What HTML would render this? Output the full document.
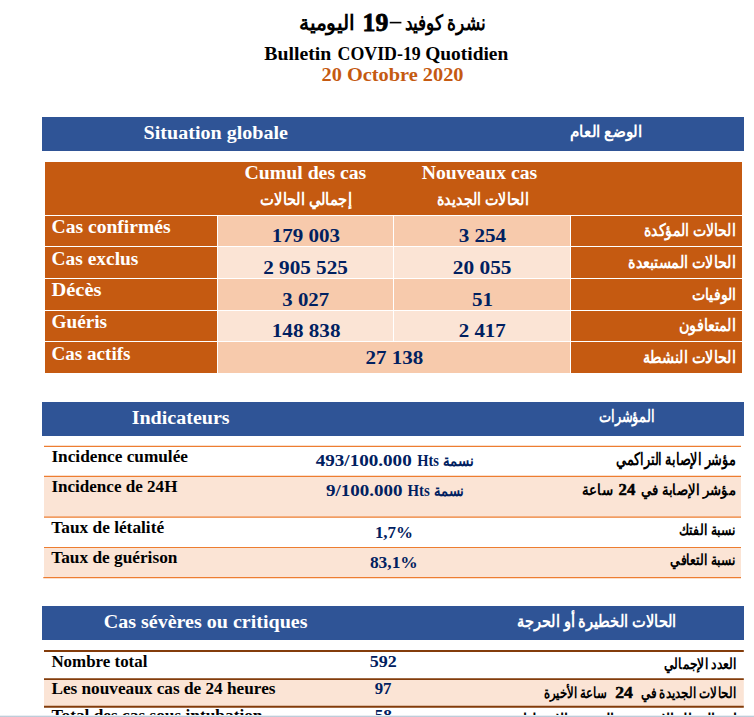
<!DOCTYPE html>
<html lang="fr"><head><meta charset="utf-8"><title>Bulletin COVID-19 Quotidien</title>
<style>html,body{margin:0;padding:0;background:#fff}body{width:754px;height:717px;overflow:hidden}svg{display:block}text{font-family:"Liberation Serif",serif;font-weight:bold;white-space:pre}</style></head>
<body>
<svg width="754" height="717" viewBox="0 0 754 717">
<defs><linearGradient id="sh" x1="0" y1="0" x2="0" y2="1"><stop offset="0" stop-color="#fff"/><stop offset="1" stop-color="#a9bccd"/></linearGradient></defs>
<!-- section bars -->
<rect x="42" y="117" width="702" height="34" fill="#2F5496"/>
<rect x="42" y="402" width="702" height="34" fill="#2F5496"/>
<rect x="42" y="606" width="702" height="34" fill="#2F5496"/>
<!-- table 1 -->
<rect x="45" y="162" width="697" height="211" fill="#C55A11"/>
<rect x="218" y="216" width="352" height="30.5" fill="#F7CAAC"/>
<rect x="218" y="246.5" width="352" height="32" fill="#FBE4D5"/>
<rect x="218" y="278.5" width="352" height="32" fill="#F7CAAC"/>
<rect x="218" y="310.5" width="352" height="31" fill="#FBE4D5"/>
<rect x="218" y="341.5" width="352" height="31.5" fill="#F7CAAC"/>
<g stroke="#fff" stroke-width="1">
<path d="M45 215.5H742M45 246.5H742M45 278.5H742M45 310.5H742M45 341.5H742"/>
<path d="M217.5 215.5V373M570.5 215.5V373M393.5 215.5V341.5"/>
</g>
<!-- table 2 -->
<rect x="44" y="476" width="697" height="41" fill="#FBE4D5"/>
<rect x="44" y="547" width="697" height="31" fill="#FBE4D5"/>
<path d="M44 446.4H741M44 476.4H741" stroke="#ED7D31" stroke-width="1.4"/><path d="M44 517.1H741M44 547.5H741M43.3 577.6H741" stroke="#ED7D31" stroke-width="1.2"/>
<!-- table 3 -->
<rect x="44" y="679" width="699.8" height="27.8" fill="#FBE4D5"/>
<path d="M44 651H743.8M44 679.1H743.8M44 706.8H743.8" stroke="#833C0B" stroke-width="1.9"/>
<!-- title dash -->
<rect x="389.7" y="21.8" width="11.7" height="1.6" fill="#000"/>
<!-- latin text -->
<text x="264.3" y="59.7" font-size="18.67" fill="#000" textLength="67" lengthAdjust="spacingAndGlyphs">Bulletin</text>
<text x="337.5" y="59.7" font-size="18.67" fill="#000" textLength="83.3" lengthAdjust="spacingAndGlyphs">COVID-19</text>
<text x="425.2" y="59.7" font-size="18.67" fill="#000" textLength="83.1" lengthAdjust="spacingAndGlyphs">Quotidien</text>
<text x="321.6" y="81.2" font-size="18.67" fill="#C55A11" textLength="141.9" lengthAdjust="spacingAndGlyphs">20 Octobre 2020</text>
<text x="143.6" y="138.6" font-size="18.67" fill="#fff" textLength="144.4" lengthAdjust="spacingAndGlyphs">Situation globale</text>
<text x="244.6" y="179.3" font-size="18.67" fill="#fff" textLength="121.7" lengthAdjust="spacingAndGlyphs">Cumul des cas</text>
<text x="421.7" y="179.3" font-size="18.67" fill="#fff" textLength="115.6" lengthAdjust="spacingAndGlyphs">Nouveaux cas</text>
<text x="51.5" y="233.2" font-size="18.67" fill="#fff" textLength="119.1" lengthAdjust="spacingAndGlyphs">Cas confirmés</text>
<text x="51.5" y="264.9" font-size="18.67" fill="#fff" textLength="86.9" lengthAdjust="spacingAndGlyphs">Cas exclus</text>
<text x="51.5" y="296" font-size="18.67" fill="#fff" textLength="49.9" lengthAdjust="spacingAndGlyphs">Décès</text>
<text x="51.5" y="327.7" font-size="18.67" fill="#fff" textLength="55.6" lengthAdjust="spacingAndGlyphs">Guéris</text>
<text x="51.5" y="360" font-size="18.67" fill="#fff" textLength="79" lengthAdjust="spacingAndGlyphs">Cas actifs</text>
<text x="271.8" y="241.9" font-size="18.67" fill="#002060" textLength="68.3" lengthAdjust="spacingAndGlyphs">179 003</text>
<text x="263.2" y="274" font-size="18.67" fill="#002060" textLength="84.7" lengthAdjust="spacingAndGlyphs">2 905 525</text>
<text x="282.3" y="306.2" font-size="18.67" fill="#002060" textLength="46.8" lengthAdjust="spacingAndGlyphs">3 027</text>
<text x="271.8" y="337.3" font-size="18.67" fill="#002060" textLength="68.7" lengthAdjust="spacingAndGlyphs">148 838</text>
<text x="365.4" y="364" font-size="18.67" fill="#002060" textLength="57.8" lengthAdjust="spacingAndGlyphs">27 138</text>
<text x="458.7" y="241.9" font-size="18.67" fill="#002060" textLength="47.5" lengthAdjust="spacingAndGlyphs">3 254</text>
<text x="452.8" y="274" font-size="18.67" fill="#002060" textLength="58.7" lengthAdjust="spacingAndGlyphs">20 055</text>
<text x="471.9" y="306.2" font-size="18.67" fill="#002060" textLength="21" lengthAdjust="spacingAndGlyphs">51</text>
<text x="458.7" y="337.3" font-size="18.67" fill="#002060" textLength="47.1" lengthAdjust="spacingAndGlyphs">2 417</text>
<text x="131.7" y="423.6" font-size="18.67" fill="#fff" textLength="97.9" lengthAdjust="spacingAndGlyphs">Indicateurs</text>
<text x="51.4" y="461.7" font-size="16" fill="#000" textLength="136.6" lengthAdjust="spacingAndGlyphs">Incidence cumulée</text>
<text x="51.4" y="492.1" font-size="16" fill="#000" textLength="126" lengthAdjust="spacingAndGlyphs">Incidence de 24H</text>
<text x="51.3" y="533.4" font-size="16" fill="#000" textLength="112.8" lengthAdjust="spacingAndGlyphs">Taux de létalité</text>
<text x="51.3" y="562.8" font-size="16" fill="#000" textLength="126.1" lengthAdjust="spacingAndGlyphs">Taux de guérison</text>
<text x="315.7" y="465.9" font-size="17.3" fill="#002060" textLength="96" lengthAdjust="spacingAndGlyphs">493/100.000</text>
<text x="417.2" y="465.9" font-size="17.3" fill="#002060" textLength="21.7" lengthAdjust="spacingAndGlyphs">Hts</text>
<text x="326" y="496.1" font-size="17.3" fill="#002060" textLength="76.4" lengthAdjust="spacingAndGlyphs">9/100.000</text>
<text x="407.6" y="496.1" font-size="17.3" fill="#002060" textLength="22.2" lengthAdjust="spacingAndGlyphs">Hts</text>
<text x="374.9" y="537.6" font-size="16" fill="#002060" textLength="38.1" lengthAdjust="spacingAndGlyphs">1,7%</text>
<text x="369.9" y="568" font-size="16" fill="#002060" textLength="47.9" lengthAdjust="spacingAndGlyphs">83,1%</text>
<text x="103.7" y="627.5" font-size="18.67" fill="#fff" textLength="203.8" lengthAdjust="spacingAndGlyphs">Cas sévères ou critiques</text>
<text x="51.4" y="666.8" font-size="16" fill="#000" textLength="96" lengthAdjust="spacingAndGlyphs">Nombre total</text>
<text x="51.4" y="693.8" font-size="16" fill="#000" textLength="224.1" lengthAdjust="spacingAndGlyphs">Les nouveaux cas de 24 heures</text>
<text x="51.6" y="721" font-size="16" fill="#000" textLength="210.9" lengthAdjust="spacingAndGlyphs">Total des cas sous intubation</text>
<text x="369.8" y="666.9" font-size="16" fill="#002060" textLength="27" lengthAdjust="spacingAndGlyphs">592</text>
<text x="374.7" y="693.7" font-size="16" fill="#002060" textLength="16.8" lengthAdjust="spacingAndGlyphs">97</text>
<text x="374.7" y="720.9" font-size="16" fill="#002060" textLength="17.3" lengthAdjust="spacingAndGlyphs">58</text>
<text x="362.6" y="31" font-size="25.6" fill="#000" stroke="#000" stroke-width="0.8" textLength="25.7" lengthAdjust="spacingAndGlyphs">19</text>
<text x="618.6" y="495" font-size="16.6" fill="#000" stroke="#000" stroke-width="0.5" textLength="16.7" lengthAdjust="spacingAndGlyphs">24</text>
<text x="615.3" y="697.9" font-size="15.8" fill="#000" stroke="#000" stroke-width="0.5" textLength="17.6" lengthAdjust="spacingAndGlyphs">24</text>
<!-- arabic text -->
<text x="326.9" y="29.5" font-size="20.7" fill="#000" text-anchor="middle" textLength="55.1" lengthAdjust="spacingAndGlyphs">اليومية</text>
<text x="445.4" y="29.5" font-size="20.7" fill="#000" text-anchor="middle" textLength="81.8" lengthAdjust="spacingAndGlyphs">نشرة كوفيد</text>
<text x="605.9" y="137.3" font-size="16.1" fill="#fff" text-anchor="middle" textLength="72.1" lengthAdjust="spacingAndGlyphs">الوضع العام</text>
<text x="306.1" y="205.2" font-size="17.2" fill="#fff" text-anchor="middle" textLength="92.1" lengthAdjust="spacingAndGlyphs">إجمالي الحالات</text>
<text x="482.8" y="205.2" font-size="17.2" fill="#fff" text-anchor="middle" textLength="91.9" lengthAdjust="spacingAndGlyphs">الحالات الجديدة</text>
<text x="689.7" y="236" font-size="16.9" fill="#fff" text-anchor="middle" textLength="92.2" lengthAdjust="spacingAndGlyphs">الحالات المؤكدة</text>
<text x="682" y="267.7" font-size="17.1" fill="#fff" text-anchor="middle" textLength="107.7" lengthAdjust="spacingAndGlyphs">الحالات المستبعدة</text>
<text x="713.9" y="299.9" font-size="16.2" fill="#fff" text-anchor="middle" textLength="44" lengthAdjust="spacingAndGlyphs">الوفيات</text>
<text x="707.4" y="331.4" font-size="17.1" fill="#fff" text-anchor="middle" textLength="56.8" lengthAdjust="spacingAndGlyphs">المتعافون</text>
<text x="689.3" y="363.2" font-size="17.2" fill="#fff" text-anchor="middle" textLength="93" lengthAdjust="spacingAndGlyphs">الحالات النشطة</text>
<text x="626.7" y="422.2" font-size="16.8" fill="#fff" text-anchor="middle" textLength="55.2" lengthAdjust="spacingAndGlyphs">المؤشرات</text>
<text x="458.3" y="465.5" font-size="15.4" fill="#002060" text-anchor="middle" textLength="30.4" lengthAdjust="spacingAndGlyphs">نسمة</text>
<text x="448.6" y="495.5" font-size="15.1" fill="#002060" text-anchor="middle" textLength="29.9" lengthAdjust="spacingAndGlyphs">نسمة</text>
<text x="675.8" y="465.4" font-size="16.6" fill="#000" text-anchor="middle" textLength="119.5" lengthAdjust="spacingAndGlyphs">مؤشر الإصابة التراكمي</text>
<text x="688.2" y="494.7" font-size="15" fill="#000" text-anchor="middle" textLength="94.8" lengthAdjust="spacingAndGlyphs">مؤشر الإصابة في</text>
<text x="597.7" y="494.7" font-size="15" fill="#000" text-anchor="middle" textLength="31.3" lengthAdjust="spacingAndGlyphs">ساعة</text>
<text x="707" y="535.4" font-size="15.4" fill="#000" text-anchor="middle" textLength="57" lengthAdjust="spacingAndGlyphs">نسبة الفتك</text>
<text x="702.7" y="565.2" font-size="15.4" fill="#000" text-anchor="middle" textLength="65.5" lengthAdjust="spacingAndGlyphs">نسبة التعافي</text>
<text x="596.9" y="626.6" font-size="16.8" fill="#fff" text-anchor="middle" textLength="159.7" lengthAdjust="spacingAndGlyphs">الحالات الخطيرة أو الحرجة</text>
<text x="700.1" y="669.1" font-size="15.4" fill="#000" text-anchor="middle" textLength="72.8" lengthAdjust="spacingAndGlyphs">العدد الإجمالي</text>
<text x="688.5" y="697.6" font-size="15" fill="#000" text-anchor="middle" textLength="96" lengthAdjust="spacingAndGlyphs">الحالات الجديدة في</text>
<text x="575.5" y="697.6" font-size="15" fill="#000" text-anchor="middle" textLength="63.8" lengthAdjust="spacingAndGlyphs">ساعة الأخيرة</text>
<text x="619.4" y="725.1" font-size="15.6" fill="#000" text-anchor="middle" textLength="234.5" lengthAdjust="spacingAndGlyphs">إجمالي الحالات تحت التنفس الاصطناعي</text>
<rect x="0" y="715" width="754" height="2" fill="url(#sh)"/>
</svg>
</body></html>
